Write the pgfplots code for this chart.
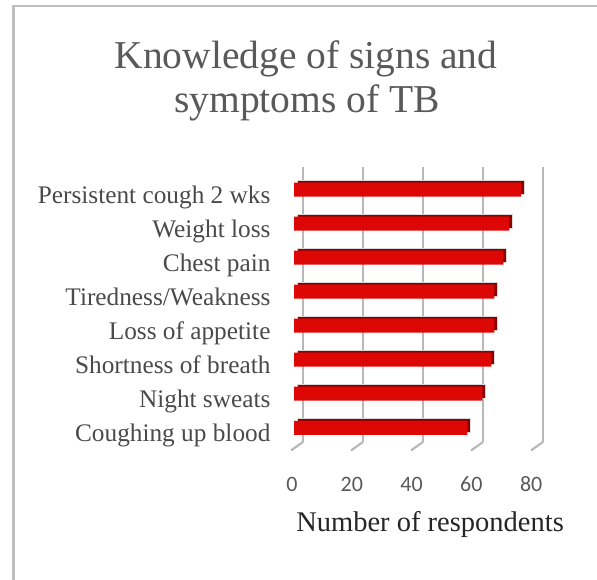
\documentclass[border=0pt]{standalone}
\usepackage{pgfplots}
\pgfplotsset{compat=1.18}
\usepackage{fontspec}
\setmainfont{Liberation Serif}
\newfontfamily\tickfont{Carlito}
\definecolor{gridgray}{HTML}{B8B8B8}
\definecolor{barred}{HTML}{DD0806}
\definecolor{bardark}{HTML}{8E0000}
\definecolor{titlegray}{HTML}{595959}
\definecolor{labgray}{HTML}{4A4A4A}
\definecolor{framegray}{HTML}{BFBFBF}

\pgfplotstableread{
idx value
0 58
1 63
2 66
3 67
4 67
5 70
6 72
7 76
}\symptoms

\begin{document}
\begin{tikzpicture}[x=1pt,y=1pt]
\path[use as bounding box] (0,0) rectangle (597,579);
\draw[framegray, line width=2.6pt] (13.7,-20) -- (13.7,573) -- (620,573);

% title
\node[anchor=base, text=titlegray, font=\fontsize{39.5}{44}\selectfont] at (306,510) {Knowledge of signs and};
\node[anchor=base, text=titlegray, font=\fontsize{39.5}{44}\selectfont] at (307,466) {symptoms of TB};

% back wall gridlines
\begin{axis}[
  at={(303pt,137pt)}, anchor=south west,
  scale only axis, width=240pt, height=275pt,
  xmin=0, xmax=80, ymin=0, ymax=1,
  xtick={0,20,40,60,80}, ytick=\empty,
  xticklabels={},
  axis line style={draw=none}, tick style={draw=none},
  xmajorgrids, major grid style={gridgray, line width=2.2pt},
  clip=false,
]
\addplot[draw=none] coordinates {(0,0)};
\pgfplotsinvokeforeach{0,20,40,60,80}{
  \draw[gridgray, line width=2.2pt] (axis cs:#1,0) -- ++(-12pt,-8.5pt);
}
\end{axis}

% bar side/top (3D depth)
\begin{axis}[
  at={(297pt,136.4pt)}, anchor=south west,
  scale only axis, width=239.2pt, height=272.3pt,
  xmin=0, xmax=80, ymin=-0.5, ymax=7.5,
  axis lines=none, xtick=\empty, ytick=\empty,
  xbar, bar width=14pt,
]
\addplot[fill=bardark, draw=gray!30, line width=1.2pt] table[x=value, y=idx] {\symptoms};
\end{axis}

% front bars and labels
\begin{axis}[
  at={(294pt,134.2pt)}, anchor=south west,
  scale only axis, width=239.2pt, height=272.3pt,
  xmin=0, xmax=80, ymin=-0.5, ymax=7.5,
  axis line style={draw=none}, tick style={draw=none},
  xbar, bar width=14pt,
  xtick={0,20,40,60,80},
  ytick={0,...,7},
  yticklabels={Coughing up blood, Night sweats, Shortness of breath, Loss of appetite, Tiredness/Weakness, Chest pain, Weight loss, Persistent cough 2 wks},
  yticklabel style={anchor=base east, xshift=-20pt, yshift=-14.2pt, text=labgray, font=\fontsize{25.3}{30}\selectfont},
  xticklabel style={anchor=base, yshift=-47pt, xshift=-2pt, text=titlegray, font=\tickfont\fontsize{22}{26}\selectfont},
  /pgf/number format/assume math mode=true,
  major tick length=0pt,
  xlabel={Number of respondents},
  xlabel style={at={(rel axis cs:0.569,0)}, anchor=base, yshift=-87pt, text=black!85, font=\fontsize{28.5}{32}\selectfont},
]
\addplot[fill=barred, draw=none] table[x=value, y=idx] {\symptoms};
\end{axis}
\end{tikzpicture}
\end{document}
